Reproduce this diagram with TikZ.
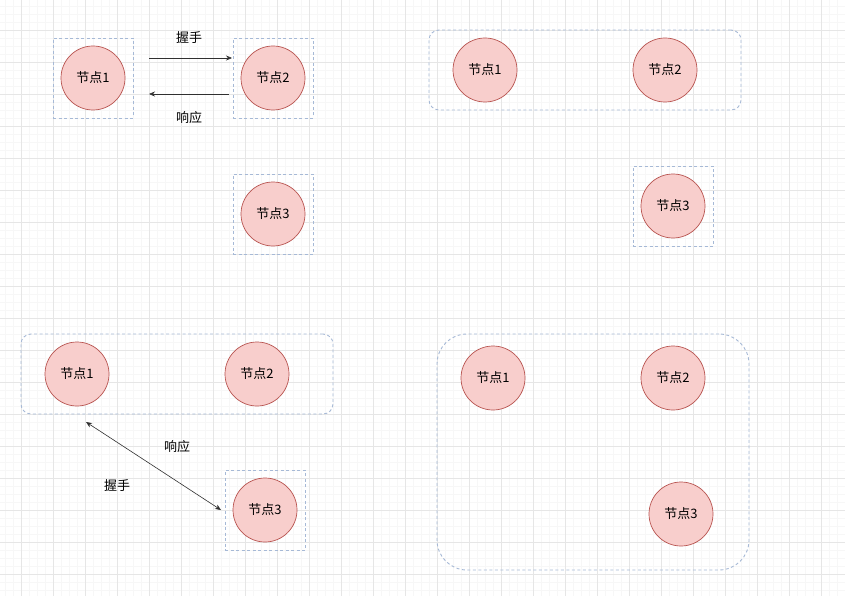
\documentclass[tikz,border=0pt]{standalone}
\usepackage{fontspec}
\setmainfont{Noto Sans CJK SC}
\usetikzlibrary{arrows.meta}
\definecolor{nodefill}{HTML}{F8CECC}
\definecolor{nodeline}{HTML}{B85450}
\definecolor{boxline}{HTML}{A6B9D6}
\definecolor{gridmajor}{HTML}{E6E6E6}
\definecolor{gridminor}{HTML}{F7F7F7}
\definecolor{arrowcol}{HTML}{303030}
\tikzset{
  peer/.style={circle,draw=nodeline,fill=nodefill,line width=0.7pt,minimum size=64pt,inner sep=0pt,font=\fontsize{13}{15}\selectfont},
  sqbox/.style={draw=boxline,line width=0.9pt,dash pattern=on 3pt off 2.5pt,minimum size=80pt,inner sep=0pt},
  grpbox/.style={draw=boxline,line width=0.9pt,dash pattern=on 3pt off 2.5pt,rounded corners=#1,inner sep=0pt},
  conn/.style={draw=arrowcol,line width=0.6pt,-{Stealth[length=6pt,width=5pt]}},
  lbl/.style={font=\fontsize{13}{15}\selectfont,inner sep=1pt}
}
\begin{document}
\begin{tikzpicture}[x=1pt,y=-1pt]
\useasboundingbox (0,0) rectangle (845,596);
\fill[white] (0,0) rectangle (845,596);
% grid
\foreach \i in {0,...,106} {\draw[gridminor,line width=0.5pt] ({-2.7+8*\i},0) -- ({-2.7+8*\i},596);}
\foreach \i in {0,...,75} {\draw[gridminor,line width=0.5pt] (0,{6.3+8*\i}) -- (845,{6.3+8*\i});}
\foreach \i in {0,...,26} {\draw[gridmajor,line width=0.7pt] ({21.3+32*\i},0) -- ({21.3+32*\i},596);}
\foreach \i in {0,...,18} {\draw[gridmajor,line width=0.7pt] (0,{30.3+32*\i}) -- (845,{30.3+32*\i});}

% ---- top-left
\node[sqbox] (b1) at (93,78) {};
\node[sqbox] (b2) at (273,78) {};
\node[sqbox] (b3) at (273,214) {};
\node[peer] (a1) at (93,78) {节点1};
\node[peer] (a2) at (273,78) {节点2};
\node[peer] (a3) at (273,214) {节点3};
\coordinate (s1) at (149,58);
\coordinate (e1) at (232,58);
\coordinate (s2) at (229,94);
\coordinate (e2) at (149,94);
\draw[conn] (s1) -- (e1);
\draw[conn] (s2) -- (e2);
\node[lbl] (l1) at (189,38) {握手};
\node[lbl] (l2) at (189,118) {响应};

% ---- top-right
\node[grpbox=10pt,minimum width=312pt,minimum height=80pt] (g1) at (585,70) {};
\node[sqbox] (b4) at (673,206) {};
\node[peer] (c1) at (485,70) {节点1};
\node[peer] (c2) at (665,70) {节点2};
\node[peer] (c3) at (673,206) {节点3};

% ---- bottom-left
\node[grpbox=10pt,minimum width=312pt,minimum height=80pt] (g2) at (177,374) {};
\node[sqbox] (b5) at (265,510) {};
\node[peer] (d1) at (77,374) {节点1};
\node[peer] (d2) at (257,374) {节点2};
\node[peer] (d3) at (265,510) {节点3};
\coordinate (s3) at (86,422);
\coordinate (e3) at (221,510);
\draw[conn,{Stealth[length=6pt,width=5pt]}-{Stealth[length=6pt,width=5pt]}] (s3) -- (e3);
\node[lbl] (l3) at (177,447) {响应};
\node[lbl] (l4) at (117,486) {握手};

% ---- bottom-right
\node[grpbox=30pt,minimum width=312pt,minimum height=236pt] (g3) at (593,452) {};
\node[peer] (f1) at (493,378) {节点1};
\node[peer] (f2) at (673,378) {节点2};
\node[peer] (f3) at (681,514) {节点3};
\end{tikzpicture}
\end{document}
